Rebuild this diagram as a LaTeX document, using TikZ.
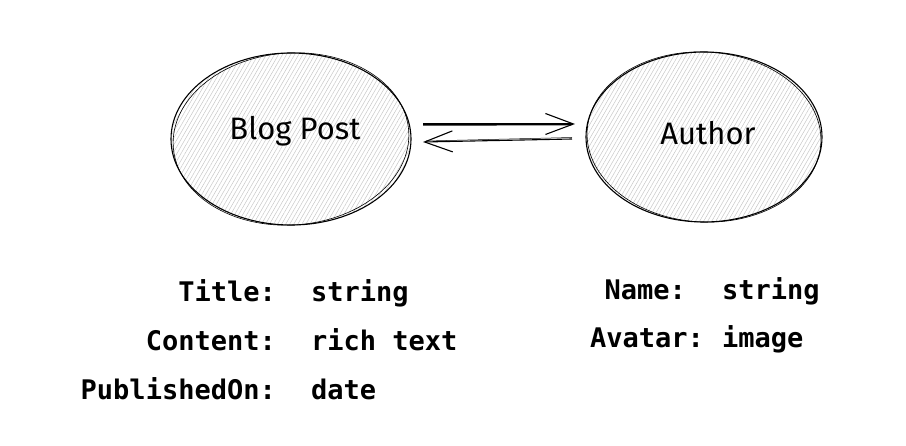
\documentclass[tikz,border=0pt]{standalone}
\usepackage{fontspec}
\setmonofont{DejaVu Sans Mono}
\newfontfamily\handfont{Fira Sans}
\usetikzlibrary{shapes.geometric,patterns.meta,arrows.meta,calc}
\tikzset{
  entity/.style={ellipse, draw=black, line width=1.1pt, inner sep=0pt,
    pattern={Lines[angle=60,distance=3.5pt,line width=0.5pt]}, pattern color=black!22},
  elabel/.style={inner sep=0pt, font=\handfont\fontsize{31}{34}\selectfont},
  sketch/.style={draw=black, line width=0.6pt},
  arr/.style={line width=1.1pt, -{Straight Barb[length=28pt,width=21pt,line width=1.1pt]}},
  fname/.style={anchor=base east, inner sep=0pt, font=\ttfamily\bfseries\fontsize{27}{30}\selectfont},
  fval/.style={anchor=base west, inner sep=0pt, font=\ttfamily\bfseries\fontsize{27}{30}\selectfont}
}
\begin{document}
\begin{tikzpicture}[x=1pt,y=-1pt]
\useasboundingbox (0,0) rectangle (906,446);
\node[entity, minimum width=240pt, minimum height=172pt] (bp) at (291,139) {};
\draw[sketch] (bp.center) ellipse [x radius=118pt, y radius=86pt, rotate=4];
\node[elabel, anchor=base] (bpl) at (295,140) {Blog Post};
\node[entity, minimum width=236pt, minimum height=170pt] (au) at (704,137) {};
\draw[sketch] (au.center) ellipse [x radius=117pt, y radius=85pt, rotate=-3];
\node[elabel, anchor=base] (aul) at (708,145) {Author};
% arrows
\coordinate (a1s) at ($(bp.center)+(132,-15)$);
\coordinate (a1e) at ($(au.center)+(-129,-13)$);
\coordinate (a2s) at ($(au.center)+(-132,2)$);
\coordinate (a2e) at ($(bp.center)+(132,3)$);
\draw[arr] (a1s) -- (a1e);
\draw[line width=0.5pt] ($(a1s)+(0,1.5)$) -- ($(a1e)+(-3,1)$);
\draw[arr] (a2s) -- (a2e);
\draw[line width=0.5pt] ($(a2s)+(0,-1.5)$) -- ($(a2e)+(3,-1)$);
% fields
\node[fname] (t1) at (276,302) {Title:};
\node[fval] (v1) at (311,302) {string};
\node[fname] (t2) at (276,351) {Content:};
\node[fval] (v2) at (311,351) {rich text};
\node[fname] (t3) at (276,400) {PublishedOn:};
\node[fval] (v3) at (311,400) {date};
\node[fname] (t4) at (686,300) {Name:};
\node[fval] (v4) at (722,300) {string};
\node[fname] (t5) at (704,348) {Avatar:};
\node[fval] (v5) at (722,348) {image};
\end{tikzpicture}
\end{document}
